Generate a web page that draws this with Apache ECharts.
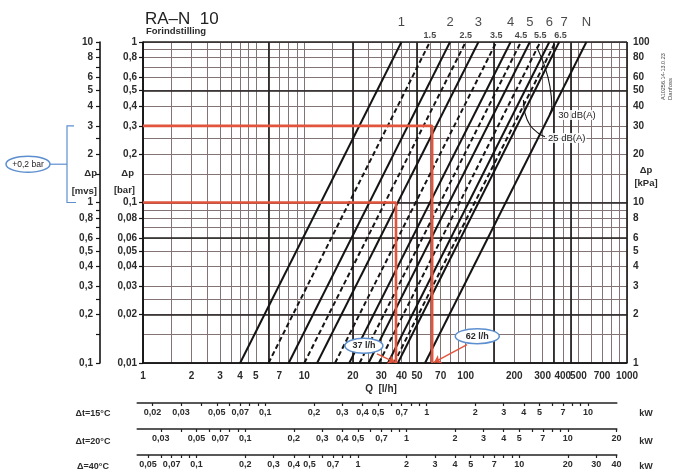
<!DOCTYPE html>
<html>
<head>
<meta charset="utf-8">
<title>RA-N 10</title>
<script src="https://cdn.jsdelivr.net/npm/echarts@6/dist/echarts.min.js"></script>
<style>
html,body{margin:0;padding:0;background:#fff;}
#chart{width:678px;height:473px;}
</style>
</head>
<body>
<div id="chart"></div>
<script>
// ---------- data ----------
// presetting lines: flow (l/h) at 1 bar and at 0.01 bar
const settings     = ['1','1.5','2','2.5','3','3.5','4','4.5','5','5.5','6','6.5','7','N'];
const flowAt1bar   = [40, 60, 80, 100, 120, 155, 190, 220, 250, 290, 330, 360, 380, 560];
const flowAt001bar = [4, 6, 8, 10, 12, 15.5, 19, 22, 25, 29, 33, 36, 38, 56];

// axis tick labels
const flowTicks = ['1','2','3','4','5','7','10','20','30','40','50','70','100','200','300','400','500','700','1000'];
const barTicks  = ['1','0,8','0,6','0,5','0,4','0,3','0,2','0,1','0,08','0,06','0,05','0,04','0,03','0,02','0,01'];
const mvsTicks  = ['10','8','6','5','4','3','2','1','0,8','0,6','0,5','0,4','0,3','0,2','0,1'];
const kpaTicks  = ['100','80','60','50','40','30','20','10','8','6','5','4','3','2','1'];

// grid lines
const gridStepsX = [1,1.5,2,2.5,3,3.5,4,4.5,5,6,7,8,9];
const gridStepsY = [1,1.5,2,2.5,3,4,5,6,7,8,9];
const majorFlow  = [1, 6, 20, 50, 150, 350, 450, 1000];
const majorDp    = [0.01, 0.02, 0.06, 0.1, 0.5, 1];

// noise limit curves (Q l/h, dp bar)
const noiseNames   = ['30 dB(A)', '25 dB(A)'];
const noise30      = [[275,0.935],[310,0.70],[333,0.527],[342,0.395],[330,0.351]];
const noise25      = [[228,0.435],[233,0.36],[250,0.304],[282,0.27],[310,0.257]];
const noiseLabelAt = [[369,0.351],[319,0.252]];

// worked example: dp (bar) -> flow (l/h)
const exampleDp        = [0.1, 0.3];
const exampleQ         = [37, 62];
const exampleBubble    = [[23.4,0.0128],[118,0.0147]];
const exampleArrowFrom = [[28.2,0.0114],[102,0.0130]];
const exampleArrowTo   = [[36.5,0.0101],[63.6,0.0101]];
const bracketMvs       = [3, 1];
const bracketText      = '+0,2 bar';

// heat output scales
const deltaT      = [15, 20, 40];
const deltaTNames = ['\u0394t=15\u00B0C', '\u0394t=20\u00B0C', '\u0394=40\u00B0C'];
const kwTicks = [
  ['0,02','0,03','0,05','0,07','0,1','0,2','0,3','0,4','0,5','0,7','1','2','3','4','5','7','10'],
  ['0,03','0,05','0,07','0,1','0,2','0,3','0,4','0,5','0,7','1','2','3','4','5','7','10','20'],
  ['0,05','0,07','0,1','0,2','0,3','0,4','0,5','0,7','1','2','3','4','5','7','10','20','30','40']
];
const heatScaleFlow = [0.92, 865];

// ---------- helpers ----------
const FONT = 'Liberation Sans, Arial, sans-serif';
const INK = '#2b2b2b';
const LINE = '#141414';
const RED = '#e2553c';
const BLUE = '#5d8fcf';
const FINE = '#827474';
const HEAVY = '#262222';
const num = s => parseFloat(String(s).replace(',', '.'));
const lg = v => Math.round(Math.log10(v) * 1e9) / 1e9;

function tickSet(strs) {
  const vals = strs.map(s => lg(num(s)));
  return {
    vals,
    fmt: v => {
      let b = 0;
      vals.forEach((x, i) => { if (Math.abs(x - v) < Math.abs(vals[b] - v)) b = i; });
      return strs[b];
    }
  };
}
function decadeLines(lo, hi, steps) {
  const out = [];
  for (let e = lo; e < hi; e++) steps.forEach(s => out.push(lg(s * Math.pow(10, e))));
  out.push(lg(Math.pow(10, hi)));
  return out;
}
function allDecadeTicks(lo, hi) {
  const out = [];
  for (let e = Math.floor(Math.log10(lo)) - 1; e <= Math.ceil(Math.log10(hi)); e++) {
    for (let s = 1; s <= 9; s++) {
      const v = s * Math.pow(10, e);
      if (v >= lo * 0.9999 && v <= hi * 1.0001) out.push(lg(v));
    }
  }
  return out;
}

// ---------- layout ----------
const L = 143, T = 42, W = 484, H = 321;
const xOfFlow = q => L + W * Math.log10(q) / 3;
const rowLineY = [403, 429, 455];
const rowLabelY = [414, 442, 467];

const labelFont = { fontFamily: FONT, fontWeight: 'bold', color: INK };

const flowSet = tickSet(flowTicks);
const barSet = tickSet(barTicks);
const mvsSet = tickSet(mvsTicks);
const kpaSet = tickSet(kpaTicks);

const grids = [{ left: L, top: T, width: W, height: H }];
const xAxes = [
  { // Q [l/h]
    type: 'value', gridIndex: 0, min: 0, max: 3, position: 'bottom', z: 3,
    axisLine: { show: true, onZero: false, lineStyle: { color: LINE, width: 1.6 } },
    axisTick: { show: false },
    axisLabel: { customValues: flowSet.vals, formatter: flowSet.fmt, margin: 8, fontSize: 10,
                 showMinLabel: true, showMaxLabel: true, ...labelFont },
    splitLine: { show: false }
  },
  { // fine grid
    type: 'value', gridIndex: 0, min: 0, max: 3, position: 'top', z: 0,
    axisLine: { show: false, onZero: false }, axisLabel: { show: false },
    axisTick: { show: false, customValues: decadeLines(0, 3, gridStepsX) },
    splitLine: { show: true, lineStyle: { color: FINE, width: 1 } }
  },
  { // heavy grid
    type: 'value', gridIndex: 0, min: 0, max: 3, position: 'top', z: 1,
    axisLine: { show: false, onZero: false }, axisLabel: { show: false },
    axisTick: { show: false, customValues: majorFlow.map(lg) },
    splitLine: { show: true, lineStyle: { color: HEAVY, width: 1.7 } }
  }
];
const yAxes = [
  { // dp [bar]
    type: 'value', gridIndex: 0, min: -2, max: 0, position: 'left', z: 3,
    axisLine: { show: true, onZero: false, lineStyle: { color: LINE, width: 1.6 } },
    axisTick: { show: true, customValues: barSet.vals, length: 4, lineStyle: { color: LINE, width: 1.2 } },
    axisLabel: { customValues: barSet.vals, formatter: barSet.fmt, margin: 6, fontSize: 10,
                 showMinLabel: true, showMaxLabel: true, ...labelFont },
    splitLine: { show: false }
  },
  { // fine grid
    type: 'value', gridIndex: 0, min: -2, max: 0, position: 'right', z: 0,
    axisLine: { show: false, onZero: false }, axisLabel: { show: false },
    axisTick: { show: false, customValues: decadeLines(-2, 0, gridStepsY) },
    splitLine: { show: true, lineStyle: { color: FINE, width: 1 } }
  },
  { // heavy grid
    type: 'value', gridIndex: 0, min: -2, max: 0, position: 'right', z: 1,
    axisLine: { show: false, onZero: false }, axisLabel: { show: false },
    axisTick: { show: false, customValues: majorDp.map(lg) },
    splitLine: { show: true, lineStyle: { color: HEAVY, width: 1.7 } }
  },
  { // dp [kPa]
    type: 'value', gridIndex: 0, min: 0, max: 2, position: 'right', z: 3,
    axisLine: { show: false, onZero: false }, axisTick: { show: false },
    axisLabel: { customValues: kpaSet.vals, formatter: kpaSet.fmt, margin: 6, fontSize: 10,
                 showMinLabel: true, showMaxLabel: true, ...labelFont },
    splitLine: { show: false }
  },
  { // dp [mvs]
    type: 'value', gridIndex: 0, min: -1, max: 1, position: 'left', offset: L - 100, z: 3,
    axisLine: { show: true, onZero: false, lineStyle: { color: LINE, width: 1.6 } },
    axisTick: { show: true, customValues: decadeLines(-1, 1, gridStepsY), length: 4,
                lineStyle: { color: LINE, width: 1.2 } },
    axisLabel: { customValues: mvsSet.vals, formatter: mvsSet.fmt, margin: 7, fontSize: 10,
                 showMinLabel: true, showMaxLabel: true, ...labelFont },
    splitLine: { show: false }
  }
];

// heat output scales, one thin grid each, aligned with the flow axis
const rowLeft = xOfFlow(heatScaleFlow[0]);
const rowRight = xOfFlow(heatScaleFlow[1]);
deltaT.forEach((dt, i) => {
  const f = 1.163 * dt / 1000;           // kW per l/h
  const lo = heatScaleFlow[0] * f, hi = heatScaleFlow[1] * f;
  const set = tickSet(kwTicks[i]);
  grids.push({ left: rowLeft, top: rowLineY[i] - 1, width: rowRight - rowLeft, height: 1 });
  xAxes.push({
    type: 'value', gridIndex: i + 1, min: Math.log10(lo), max: Math.log10(hi), position: 'bottom',
    axisLine: { show: true, onZero: false, lineStyle: { color: '#222', width: 1.5 } },
    axisTick: { show: true, customValues: allDecadeTicks(lo, hi), length: 3, lineStyle: { color: '#222', width: 1.2 } },
    axisLabel: { customValues: set.vals, formatter: set.fmt, margin: 5, fontSize: 9,
                 showMinLabel: true, showMaxLabel: true, ...labelFont },
    splitLine: { show: false }
  });
  yAxes.push({ type: 'value', gridIndex: i + 1, show: false, min: 0, max: 1 });
});

// ---------- series ----------
const series = [];
settings.forEach((s, i) => {
  series.push({
    type: 'line', xAxisIndex: 0, yAxisIndex: 0, symbol: 'none', silent: true, z: 3,
    lineStyle: { color: LINE, width: 2, type: s.includes('.') ? [5, 3] : 'solid' },
    data: [[lg(flowAt001bar[i]), lg(0.01)], [lg(flowAt1bar[i]), lg(1)]]
  });
});
const labelShift = { '6.5': 5, '7': 5 };
series.push({
  type: 'scatter', xAxisIndex: 0, yAxisIndex: 0, symbolSize: 1, clip: false, silent: true, z: 6,
  itemStyle: { color: 'rgba(0,0,0,0)' },
  data: settings.map((s, i) => {
    const half = s.includes('.');
    return {
      value: [lg(flowAt1bar[i]), lg(1)],
      label: {
        show: true, position: 'top', formatter: s,
        distance: half ? 1.5 : 13,
        offset: [labelShift[s] || 0, 0],
        fontFamily: FONT, fontSize: half ? 9 : 13, fontWeight: half ? 'bold' : 'normal', color: '#1a1a1a'
      }
    };
  })
});
[noise30, noise25].forEach(curve => {
  series.push({
    type: 'line', xAxisIndex: 0, yAxisIndex: 0, symbol: 'none', silent: true, z: 4, smooth: 0.4,
    lineStyle: { color: LINE, width: 1.1 },
    data: curve.map(p => [lg(p[0]), lg(p[1])])
  });
});
exampleQ.forEach((q, i) => {
  series.push({
    type: 'line', xAxisIndex: 0, yAxisIndex: 0, symbol: 'none', silent: true, z: 5,
    lineStyle: { color: RED, width: 2.6 },
    data: [[0, lg(exampleDp[i])], [lg(q), lg(exampleDp[i])], [lg(q), lg(0.01)]],
    markLine: {
      silent: true, symbol: ['none', 'arrow'], symbolSize: 7, animation: false,
      label: { show: false },
      lineStyle: { color: RED, width: 1.4, type: 'solid' },
      data: [[
        { coord: [lg(exampleArrowFrom[i][0]), lg(exampleArrowFrom[i][1])] },
        { coord: [lg(exampleArrowTo[i][0]), lg(exampleArrowTo[i][1])] }
      ]]
    }
  });
});

const chart = echarts.init(document.getElementById('chart'), null, { renderer: 'canvas' });
chart.setOption({
  animation: false,
  backgroundColor: '#ffffff',
  grid: grids.map(g => Object.assign({ outerBoundsMode: 'none', containLabel: false }, g)),
  xAxis: xAxes,
  yAxis: yAxes,
  series
});

// ---------- annotations ----------
const P = (q, dp) => chart.convertToPixel({ gridIndex: 0 }, [lg(q), lg(dp)]);
const txt = (x, y, text, size, extra) => ({
  type: 'text', x, y, silent: true, z: 100,
  style: Object.assign({ text, fontSize: size, fontFamily: FONT, fontWeight: 'bold', fill: INK,
                         align: 'center', verticalAlign: 'middle' }, extra || {})
});
const g = [];
g.push(txt(145, 19, 'RA\u2013N  10', 17, { align: 'left', fontWeight: 'normal', fill: '#222' }));
g.push(txt(146, 31, 'Forindstilling', 9.5, { align: 'left' }));

g.push(txt(97, 173, '\u0394p', 9.5, { align: 'right' }));
g.push(txt(97, 191, '[mvs]', 9.5, { align: 'right' }));
g.push(txt(134, 173, '\u0394p', 9.5, { align: 'right' }));
g.push(txt(135, 190, '[bar]', 9.5, { align: 'right' }));
g.push(txt(646, 170, '\u0394p', 9.5));
g.push(txt(646, 183, '[kPa]', 9.5));
g.push(txt(381, 389, 'Q  [l/h]', 10));

deltaTNames.forEach((n, i) => {
  g.push(txt(93, rowLabelY[i], n, 9));
  g.push(txt(646, rowLabelY[i], 'kW', 9));
});

noiseNames.forEach((n, i) => {
  const p = P(noiseLabelAt[i][0], noiseLabelAt[i][1]);
  g.push(txt(p[0], p[1], n, 9.5, { align: 'left', fontWeight: 'normal', fill: '#1a1a1a',
                                   backgroundColor: 'rgba(255,255,255,0.85)', padding: [0, 1] }));
});

exampleQ.forEach((q, i) => {
  const c = P(exampleBubble[i][0], exampleBubble[i][1]);
  const rx = i === 0 ? 19 : 22;
  g.push({ type: 'ellipse', silent: true, z: 90, shape: { cx: c[0], cy: c[1], rx, ry: 7.5 },
           style: { fill: '#ffffff', stroke: BLUE, lineWidth: 1.5 } });
  g.push(txt(c[0], c[1], q + ' l/h', 9));
});

// bracket marking 3 -> 1 mvs
const yTop = P(1, bracketMvs[0] / 10)[1];
const yBot = P(1, bracketMvs[1] / 10)[1];
const yMid = (yTop + yBot) / 2;
g.push({ type: 'polyline', silent: true, z: 90,
         shape: { points: [[74, yTop], [67, yTop], [67, yBot], [76, yBot]] },
         style: { stroke: BLUE, lineWidth: 1.2, fill: null } });
g.push({ type: 'polyline', silent: true, z: 90,
         shape: { points: [[50, yMid], [67, yMid]] },
         style: { stroke: BLUE, lineWidth: 1.2, fill: null } });
g.push({ type: 'ellipse', silent: true, z: 90, shape: { cx: 28, cy: yMid, rx: 22, ry: 8 },
         style: { fill: '#ffffff', stroke: BLUE, lineWidth: 1.5 } });
g.push(txt(28, yMid, bracketText, 8.5, { fontWeight: 'normal', fill: '#222' }));

// drawing reference
g.push(Object.assign(txt(663, 100, 'A10256.14-13.0.23', 5.5, { align: 'left', fontWeight: 'normal', fill: '#444' }),
                     { rotation: Math.PI / 2 }));
g.push(Object.assign(txt(670, 100, 'Danfoss', 6, { align: 'left', fontWeight: 'normal', fill: '#444' }),
                     { rotation: Math.PI / 2 }));

chart.setOption({ graphic: { elements: g } });
</script>
</body>
</html>
